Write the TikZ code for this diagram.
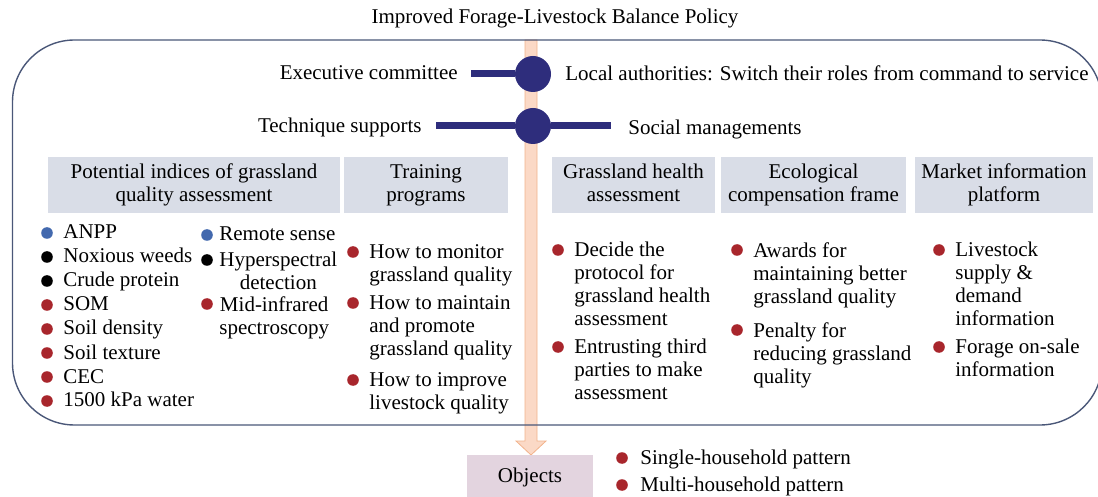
\documentclass[tikz,border=0pt]{standalone}
\usepackage{fontspec}
\setmainfont{Liberation Serif}
\definecolor{navy}{HTML}{2E2D7C}
\definecolor{frame}{HTML}{4A5778}
\definecolor{peachfill}{HTML}{FBD9C6}
\definecolor{peachline}{HTML}{F2B38C}
\definecolor{headfill}{HTML}{D9DDE7}
\definecolor{objfill}{HTML}{E3D4DF}
\definecolor{dotred}{HTML}{A8262C}
\definecolor{dotblue}{HTML}{4369AE}

\begin{document}
\begin{tikzpicture}[x=0.5pt, y=-0.5pt,
    every node/.style={font=\fontsize{10.5}{11.5}\selectfont, inner sep=0pt},
    head/.style={fill=headfill, align=center, minimum height=28pt},
    bdot/.style={circle, fill=#1, minimum size=5.8pt},
    item/.style={anchor=north west, align=left},
    txt/.style={anchor=base west},
    hub/.style={circle, fill=navy, minimum size=18pt},
    bar/.style={navy, line width=3.5pt}]
    \useasboundingbox (0,0) rectangle (1098,497);

    % policy arrow down to the objects
    \draw[peachline, fill=peachfill] (525,40) -- (525,441) -- (516,441) -- (531,455)
        -- (546,441) -- (537,441) -- (537,40) -- cycle;
    \draw[frame, line width=0.7pt, rounded corners=31pt] (12.5,40) rectangle (1102,425);

    \node[anchor=base] (title) at (555,24) {Improved Forage-Livestock Balance Policy};

    % two hubs on the arrow
    \node[hub] (hub1) at (533,74) {};
    \node[hub] (hub2) at (533,126) {};
    \coordinate (e1) at (471,74);
    \coordinate (e2) at (436,126);
    \coordinate (e3) at (611,126);
    \draw[bar] (e1) -- (hub1);
    \draw[bar] (e2) -- (hub2);
    \draw[bar] (hub2) -- (e3);
    \node[anchor=base east] (exec) at (458,80) {Executive committee};
    \node[txt] (local) at (565,81) {Local authorities: Switch their roles from command to service};
    \node[anchor=base east] (tech) at (422,133) {Technique supports};
    \node[txt] (social) at (628,135) {Social managements};

    % column headers
    \node[head, minimum width=146pt, text depth=2pt] (h1) at (194,185) {Potential indices of grassland\\quality assessment};
    \node[head, minimum width=82pt, text depth=2pt] (h2) at (426,185) {Training\\programs};
    \node[head, minimum width=81.5pt, text depth=2pt] (h3) at (633.5,185) {Grassland health\\assessment};
    \node[head, minimum width=92.5pt, text depth=2pt] (h4) at (813.5,185) {Ecological\\compensation frame};
    \node[head, minimum width=89pt, text depth=2pt] (h5) at (1004,185) {Market information\\platform};

    % indices
    \foreach \txt/\col [count=\i] in {ANPP/dotblue, Noxious weeds/black, Crude protein/black,
        SOM/dotred, Soil density/dotred, Soil texture/dotred, CEC/dotred, 1500 kPa water/dotred}{
        \node[bdot=\col] (ix\i) at (47,209+24*\i) {};
        \node[txt] (it\i) at (63,215+24*\i) {\txt};
    }
    % methods
    \node[bdot=dotblue] (mx1) at (207,235) {};
    \node[txt] (mt1) at (219,241) {Remote sense};
    \node[bdot=black] (mx2) at (207,260) {};
    \node[item, align=center] (mt2) at (219,252) {Hyperspectral\\detection};
    \node[bdot=dotred] (mx3) at (207,304) {};
    \node[item, align=center] (mt3) at (219,296) {Mid-infrared\\spectroscopy};

    % red bullet lists under the other headers
    \foreach \n/\bx/\by/\txt in {
        tr1/353/252/{How to monitor\\grassland quality},
        tr2/353/303/{How to maintain\\and promote\\grassland quality},
        tr3/353/380/{How to improve\\livestock quality},
        gh1/558/250/{Decide the\\protocol for\\grassland health\\assessment},
        gh2/558/347/{Entrusting third\\parties to make\\assessment},
        ec1/737/250/{Awards for\\maintaining better\\grassland quality},
        ec2/737/330/{Penalty for\\reducing grassland\\quality},
        mk1/939/250/{Livestock\\supply \&\\demand\\information},
        mk2/939/347/{Forage on-sale\\information}}{
        \node[bdot=dotred] (\n-dot) at (\bx,\by) {};
        \node[item] (\n) at (\bx+16,\by-8) {\txt};
    }

    % objects
    \node[fill=objfill, minimum width=63pt, minimum height=22pt] (obj) at (530,477) {Objects};
    \node[bdot=dotred] (ob1-dot) at (622,458) {};
    \node[txt] (ob1) at (640,464) {Single-household pattern};
    \node[bdot=dotred] (ob2-dot) at (622,485) {};
    \node[txt] (ob2) at (640,491) {Multi-household pattern};
\end{tikzpicture}
\end{document}
